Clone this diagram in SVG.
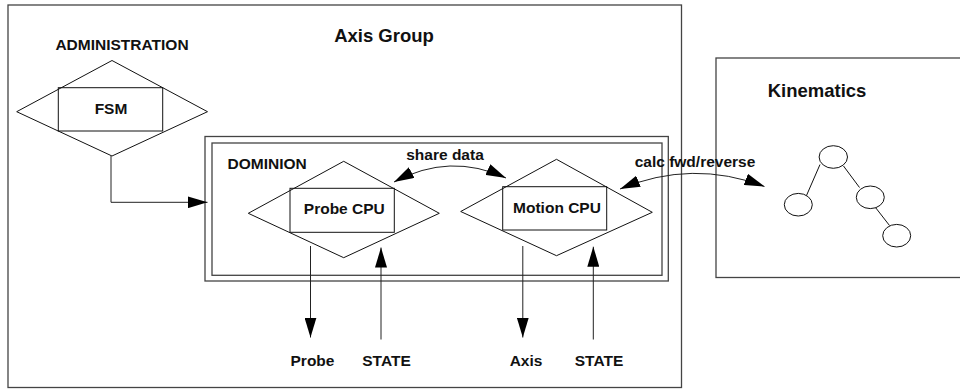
<svg xmlns="http://www.w3.org/2000/svg" width="960" height="390" viewBox="0 0 960 390">
  <style>
    .frame { fill: none; stroke: #444; stroke-width: 1.3; }
    .shape { fill: none; stroke: #111; stroke-width: 1; }
    .wire { fill: none; stroke: #222; stroke-width: 1; }
    .lbl { font-family: "Liberation Sans", Arial, sans-serif; font-weight: bold; font-size: 15.5px; fill: #111; }
    .title { font-family: "Liberation Sans", Arial, sans-serif; font-weight: bold; font-size: 18.5px; fill: #111; }
  </style>
  <defs>
    <marker id="head" viewBox="0 0 20 12" refX="20" refY="6" markerWidth="20" markerHeight="12" markerUnits="userSpaceOnUse" orient="auto-start-reverse">
      <path d="M0,0 L20,6 L0,12 Z" fill="#000"/>
    </marker>
  </defs>
  <rect width="960" height="390" fill="#fff"/>

  <g id="axis-group">
    <rect class="frame" x="8" y="5" width="673.5" height="382.5"/>
    <text class="title" x="384" y="42" text-anchor="middle">Axis Group</text>
  </g>

  <g id="kinematics">
    <rect class="frame" x="716" y="58" width="260" height="219.5"/>
    <text class="title" x="817" y="97" text-anchor="middle">Kinematics</text>
    <g class="shape">
      <line x1="820" y1="164.5" x2="806.5" y2="195.5"/>
      <line x1="843.5" y1="166" x2="859.5" y2="187.5"/>
      <line x1="875.5" y1="207.5" x2="889.5" y2="225.5"/>
      <ellipse cx="833.3" cy="157" rx="14.2" ry="11.3"/>
      <ellipse cx="798.3" cy="204.7" rx="14" ry="11.3"/>
      <ellipse cx="870.3" cy="197.3" rx="14" ry="11.3"/>
      <ellipse cx="896.7" cy="235.7" rx="14" ry="11.3"/>
    </g>
  </g>

  <g id="administration">
    <text class="lbl" x="122" y="50" text-anchor="middle">ADMINISTRATION</text>
    <polygon class="shape" points="112,60.5 207.5,111.7 112,156 16.7,111.7"/>
    <rect class="shape" x="58.3" y="87.7" width="104.4" height="43.3"/>
    <text class="lbl" x="111" y="113.5" text-anchor="middle">FSM</text>
  </g>

  <g id="dominion">
    <rect class="frame" x="205" y="136.5" width="463.3" height="144.5"/>
    <rect class="frame" x="212" y="143" width="450" height="132.3"/>
    <text class="lbl" x="227.5" y="169">DOMINION</text>
  </g>

  <g id="probe-cpu">
    <polygon class="shape" points="343.7,161.3 439.3,213.3 343.7,257.7 248.3,213.3"/>
    <rect class="shape" x="290" y="188.3" width="104.3" height="44"/>
    <text class="lbl" x="344.3" y="214" text-anchor="middle">Probe CPU</text>
  </g>

  <g id="motion-cpu">
    <polygon class="shape" points="556.5,159.3 652.3,212.3 556.5,255.7 460.7,211.5"/>
    <rect class="shape" x="502.7" y="186.7" width="104" height="43.3"/>
    <text class="lbl" x="557" y="212.5" text-anchor="middle">Motion CPU</text>
  </g>

  <g id="io-labels">
    <text class="lbl" x="312.5" y="366" text-anchor="middle">Probe</text>
    <text class="lbl" x="386.5" y="366" text-anchor="middle">STATE</text>
    <text class="lbl" x="526" y="366" text-anchor="middle">Axis</text>
    <text class="lbl" x="599" y="366" text-anchor="middle">STATE</text>
  </g>

  <g id="connectors">
    <path class="wire" d="M111,156 V202.3 H207.5" marker-end="url(#head)"/>
    <path class="wire" d="M310.5,246 V337.5" marker-end="url(#head)"/>
    <path class="wire" d="M381,339.5 V247.5" marker-end="url(#head)"/>
    <path class="wire" d="M522.8,246 V337.5" marker-end="url(#head)"/>
    <path class="wire" d="M593.3,339.5 V246.7" marker-end="url(#head)"/>
    <path class="wire" d="M394,182 Q450,152 506,178" marker-start="url(#head)" marker-end="url(#head)"/>
    <path class="wire" d="M620,189 Q692,159 764.5,186.5" marker-start="url(#head)" marker-end="url(#head)"/>
    <text class="lbl" x="445" y="159.5" text-anchor="middle">share data</text>
    <text class="lbl" x="695" y="166.7" text-anchor="middle">calc fwd/reverse</text>
  </g>
</svg>
